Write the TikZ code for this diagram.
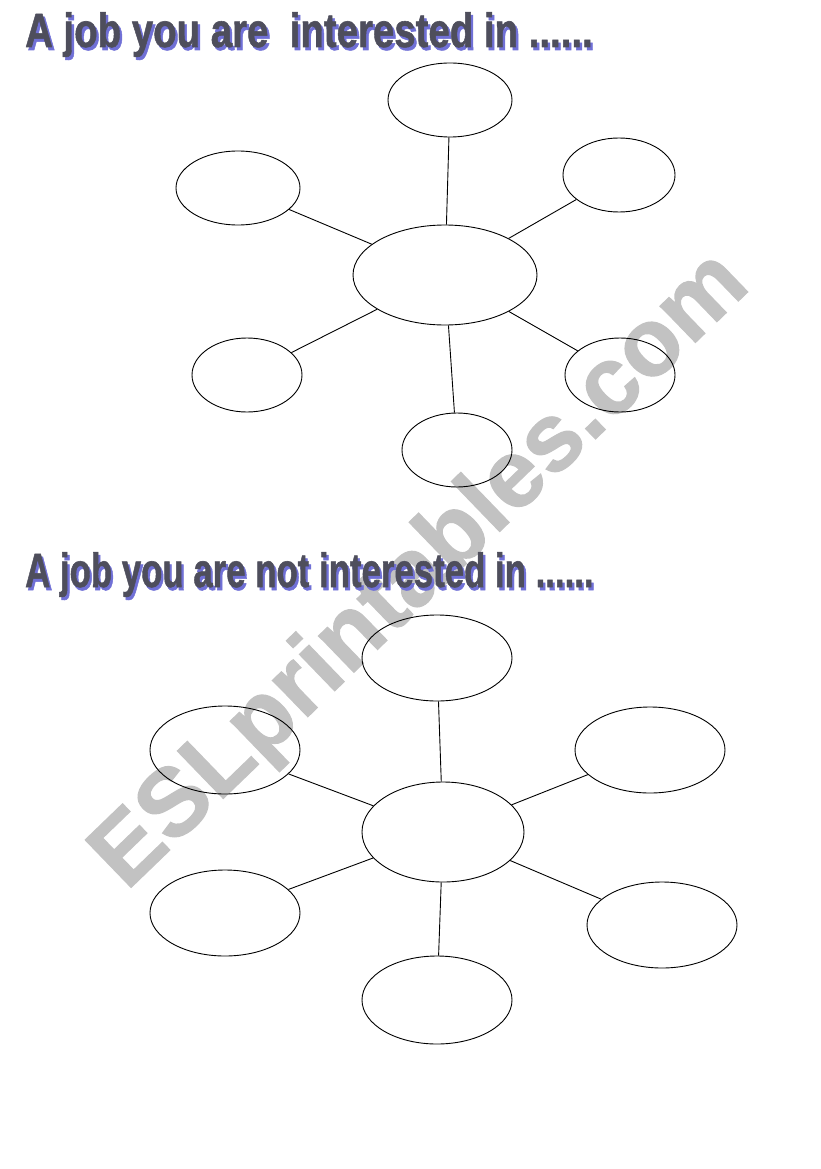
\documentclass[tikz,border=0pt]{standalone}
\usepackage{fontspec}
\newfontfamily\headfont{Liberation Sans}[FakeBold=1.2]
\usetikzlibrary{shapes.geometric}

\definecolor{headgray}{RGB}{78,78,92}
\definecolor{shadowblue}{RGB}{112,112,214}
\definecolor{wmgray}{RGB}{194,194,194}

% title text with its blue drop shadow
\newcommand\shadowtext[1]{\makebox[0pt][l]{\hspace{3pt}\raisebox{-3pt}{\textcolor{shadowblue}{#1}}}\textcolor{headgray}{#1}}

\begin{document}
\begin{tikzpicture}[x=1pt,y=-1pt,
  bub/.style={draw,ellipse,inner sep=0pt,line width=0.9pt},
  head/.style={anchor=base west,inner sep=0pt,
    font=\headfont\bfseries\fontsize{48}{48}\selectfont},
  spoke/.style={line width=0.9pt}]
  \useasboundingbox (0,0) rectangle (821,1169);

  % watermark
  \node[rotate=44,text=wmgray,font=\headfont\bfseries\fontsize{96}{96}\selectfont]
    (wm) at (422,572) {ESLprintables.com};

  % titles
  \node[head,xscale=0.8] (h1) at (25,47) {\shadowtext{A job you are\ \ interested in ......}};
  \node[head,xscale=0.725] (h2) at (25,587) {\shadowtext{A job you are not interested in ......}};

  % first web
  \node[bub,minimum width=184pt,minimum height=100pt] (c1) at (445,275) {};
  \node[bub,minimum width=124pt,minimum height=74pt] (t1) at (450,100) {};
  \node[bub,minimum width=124pt,minimum height=74pt] (ul1) at (238,188) {};
  \node[bub,minimum width=112pt,minimum height=74pt] (ur1) at (619,175) {};
  \node[bub,minimum width=110pt,minimum height=74pt] (ll1) at (247,375) {};
  \node[bub,minimum width=110pt,minimum height=74pt] (lr1) at (620,375) {};
  \node[bub,minimum width=110pt,minimum height=74pt] (b1) at (457,450) {};
  \draw[spoke] (c1) -- (t1);
  \draw[spoke] (c1) -- (ul1);
  \draw[spoke] (c1) -- (ur1);
  \draw[spoke] (c1) -- (ll1);
  \draw[spoke] (c1) -- (lr1);
  \draw[spoke] (c1) -- (b1);

  % second web
  \node[bub,minimum width=162pt,minimum height=100pt] (c2) at (443,832) {};
  \node[bub,minimum width=150pt,minimum height=86pt] (t2) at (437,658) {};
  \node[bub,minimum width=150pt,minimum height=88pt] (ul2) at (225,750) {};
  \node[bub,minimum width=150pt,minimum height=86pt] (ur2) at (650,750) {};
  \node[bub,minimum width=150pt,minimum height=86pt] (ll2) at (225,913) {};
  \node[bub,minimum width=150pt,minimum height=86pt] (lr2) at (662,925) {};
  \node[bub,minimum width=150pt,minimum height=88pt] (b2) at (437,1000) {};
  \draw[spoke] (c2) -- (t2);
  \draw[spoke] (c2) -- (ul2);
  \draw[spoke] (c2) -- (ur2);
  \draw[spoke] (c2) -- (ll2);
  \draw[spoke] (c2) -- (lr2);
  \draw[spoke] (c2) -- (b2);
\end{tikzpicture}
\end{document}
